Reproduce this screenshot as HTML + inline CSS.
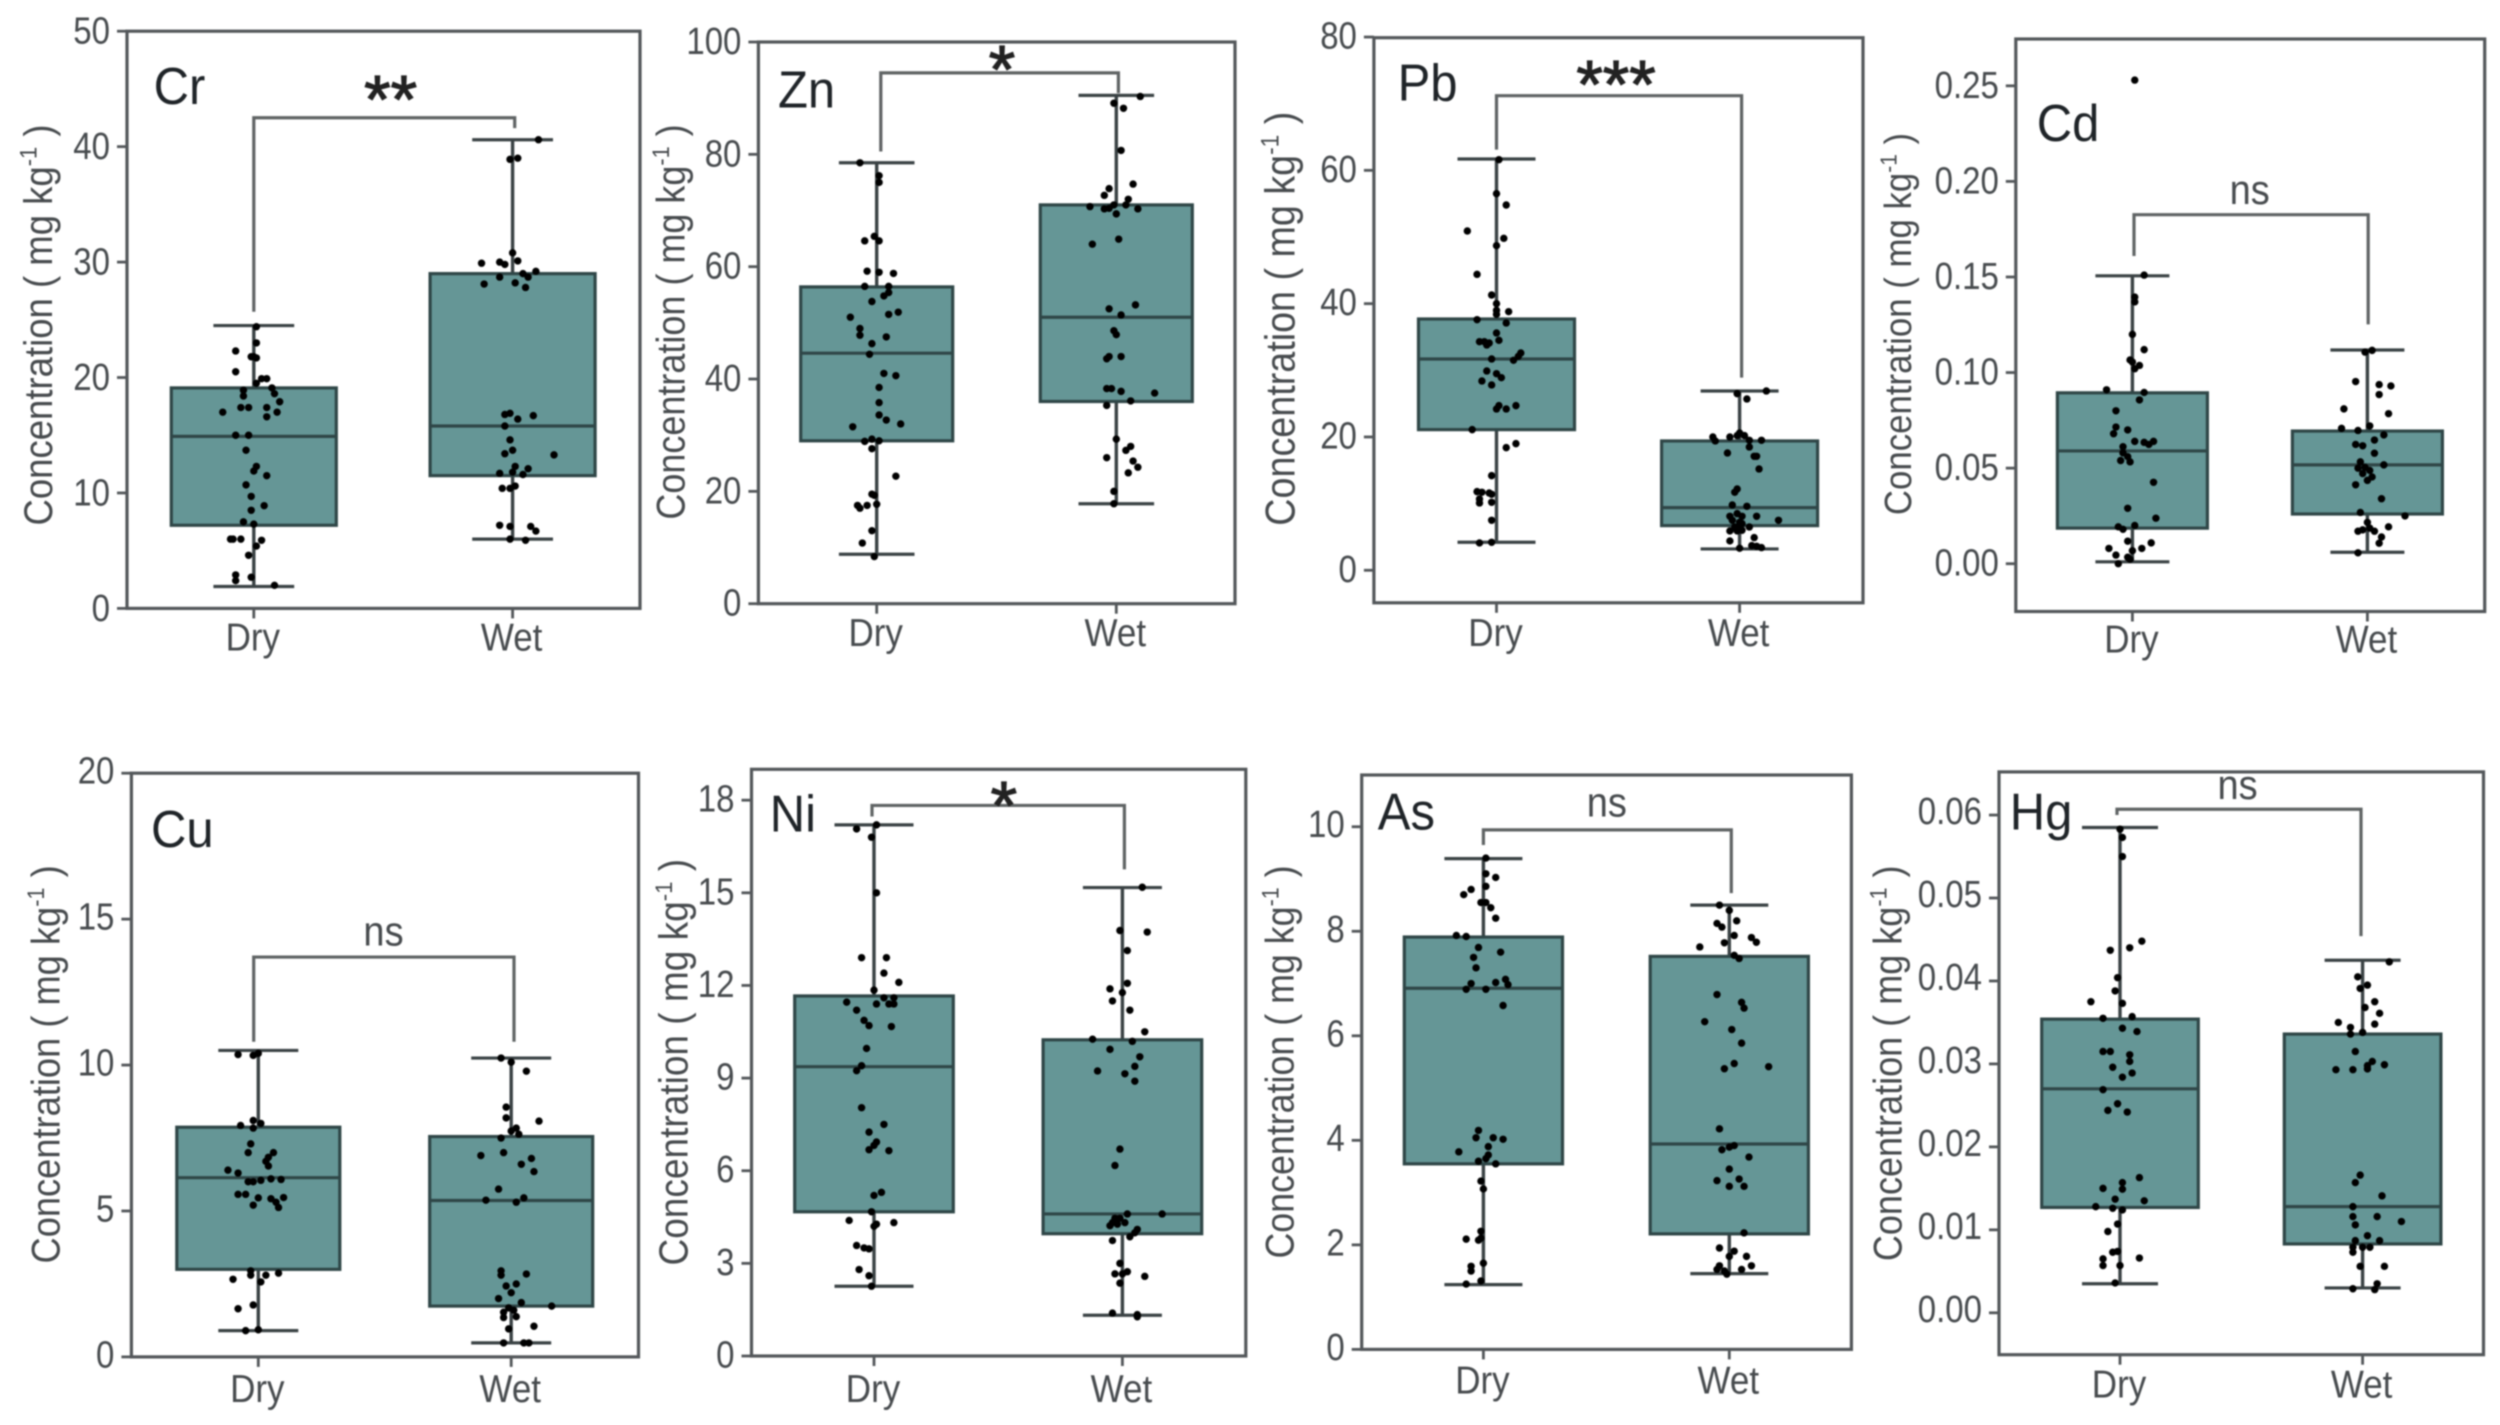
<!DOCTYPE html>
<html lang="en">
<head>
<meta charset="utf-8">
<title>Heavy metal concentration in dry and wet seasons</title>
<style>
html,body{margin:0;padding:0;background:#fff;width:2500px;height:1425px;overflow:hidden}
svg{display:block;filter:blur(0.85px)}
text{font-family:"Liberation Sans",Arial,sans-serif}
</style>
</head>
<body>
<svg id="chart" xmlns="http://www.w3.org/2000/svg" width="2500" height="1425" viewBox="0 0 2500 1425"></svg>
<script>
// ---- Categories ----
const categories = ['Dry', 'Wet'];

// ---- Cr ----
const crDomain = [0, 50];
const crTicks = [0, 10, 20, 30, 40, 50];
const crTickLabels = ['0', '10', '20', '30', '40', '50'];
const crDryStats = [1.9, 7.2, 14.9, 19.1, 24.5];
const crWetStats = [6, 11.5, 15.8, 29, 40.6];
const crDryValues = [24.4,23,22.3,21.8,21.8,21.7,20.5,19.9,19.9,19.5,19.1,18.9,18.6,18.4,17.9,17.4,17.4,17.4,17,17,16.6,15,15,13.7,12.3,11.9,11.5,10.7,9.7,8.9,8.5,7.5,7.3,6,6,6,5.9,5.4,4.6,2.9,2.4,2.7,2];
const crDryJitter = [1,1,-7,-1,0,1,-7,3,5,1,7,-4,8,-4,10,-5,-2,5,-12,9,5,-7,-2,-3,1,0,5,-3,-1,4,-1,-4,0,-9,-8,-5,3,1,-2,-7,-7,-1,8];
const crWetValues = [40.6,38.9,39,30.8,30.1,29.9,30,29.8,29.2,29,28.7,28.7,28.2,28.1,27.8,16.8,16.9,16.7,16.4,15.8,14.6,13.7,13.4,13.3,12.3,12.1,11.7,11.8,11.6,10.4,10.6,10.4,7.2,7.1,7.1,6.7,6,5.9];
const crWetJitter = [10,-1,2,0,2,-12,-5,-3,9,4,6,-5,1,-11,5,-3,-1,8,2,-3,-1,0,-3,16,1,6,-5,0,4,-4,1,-1,-5,-1,7,9,-1,5];
const crBracket = [42.5, 25.7, 41.6];

// ---- Zn ----
const znDomain = [0, 100];
const znTicks = [0, 20, 40, 60, 80, 100];
const znTickLabels = ['0', '20', '40', '60', '80', '100'];
const znDryStats = [8.8, 29, 44.6, 56.4, 78.5];
const znWetStats = [17.8, 36, 51, 71, 90.5];
const znDryValues = [78.5,76.2,75,65.4,64.6,64.6,59.2,59,58.8,56.5,56.5,55.4,54.8,53.8,51.9,51.5,51,49,47.8,47.5,46.3,44.4,41,40.6,38.5,35.8,33.6,32.7,32,31.5,29.3,28.9,29,27.6,22.7,19.5,19.3,17.7,17.5,17.5,17,13,10.8,8.4];
const znDryJitter = [-7,1,1,-1,-5,1,-4,1,7,-5,5,5,3,-2,9,5,-11,-7,-7,4,-2,-3,3,8,1,1,1,4,10,-10,-2,-5,1,-2,8,-2,-1,0,-8,-4,-7,-2,-6,-1];
const znWetValues = [90.3,89.1,88.2,80.7,74.7,73.9,72.7,72,70.7,71,71,70.3,70.4,70.3,69.4,64.9,64,53.2,52.5,51.4,48.6,47.9,44,44,43.6,38.3,38.3,37.8,37.5,36.1,35.3,29.3,28,27.3,26,25.4,24.3,23.3,20,17.8];
const znWetJitter = [10,-1,3,2,7,-3,-5,5,-11,4,-1,-5,-3,9,0,1,-10,8,-3,2,-1,0,2,-3,-4,-4,-2,2,16,6,-4,0,6,4,-4,7,9,5,-1,-1];
const znBracket = [94.5, 80.5, 90.9];

// ---- Pb ----
const pbDomain = [-4.88, 79.9];
const pbTicks = [0, 20, 40, 60, 80];
const pbTickLabels = ['0', '20', '40', '60', '80'];
const pbDryStats = [4.2, 21.1, 31.7, 37.7, 61.7];
const pbWetStats = [3.2, 6.7, 9.4, 19.4, 26.9];
const pbDryValues = [61.6,56.5,54.8,50.9,49.8,48.7,44.4,41.3,40,39,38.8,38.4,37.6,37.1,35.6,34.3,34.3,34.1,34.5,33.8,32.6,32.1,31.7,31.5,29.9,29.5,28.9,28.4,27.8,24.7,24.7,24.2,24.2,21.1,19,18.4,14.2,11.8,11.7,11.6,11.4,10.7,10.1,10.2,7.5,4.1,4.2];
const pbDryJitter = [1,0,4,-12,3,0,-8,-2,0,0,5,0,-8,4,0,-7,-5,-3,1,-4,10,9,-2,7,-4,0,2,-6,-2,1,8,0,4,-10,8,4,-2,-8,-6,-3,-2,-7,-7,-2,-2,-7,-2];
const pbWetValues = [26.9,26.5,25.7,20.6,20,20,20.2,20.2,19.4,19.5,19.5,18.5,17.6,17.1,17.1,15.2,12.2,11.7,9.8,9.6,8.1,8.1,8.5,8.1,7.5,7.5,7.2,7,5.9,5.9,6,6.5,4.9,4.4,3.7,3.3,3.4,3.6,6.5,6.5];
const pbWetJitter = [11,-1,3,0,-11,-4,-1,2,-10,9,4,4,-5,6,7,8,-1,-2,-3,3,7,-4,-1,1,16,-3,0,1,-4,-1,1,4,6,-4,5,0,9,7,-2,0];
const pbBracket = [71.2, 63.1, 28.9];

// ---- Cd ----
const cdDomain = [-0.025, 0.2745];
const cdTicks = [0, 0.05, 0.1, 0.15, 0.2, 0.25];
const cdTickLabels = ['0.00', '0.05', '0.10', '0.15', '0.20', '0.25'];
const cdDryStats = [0.001, 0.0186, 0.059, 0.0894, 0.1506];
const cdWetStats = [0.006, 0.026, 0.0517, 0.0694, 0.1118];
const cdDryValues = [0.253,0.151,0.1395,0.137,0.12,0.112,0.1066,0.1055,0.1037,0.102,0.091,0.0896,0.0857,0.08,0.0715,0.07,0.068,0.064,0.0635,0.064,0.0624,0.0612,0.058,0.056,0.054,0.0533,0.0426,0.029,0.0238,0.0193,0.02,0.018,0.0118,0.0109,0.008,0.008,0.0045,0.0068,0.0023,0,0.0034];
const cdDryJitter = [1,5,1,1,0,5,-1,0,3,1,-11,5,3,-7,-7,-2,-8,1,5,9,7,-4,-4,-2,-5,-1,9,-2,10,-6,1,-4,-2,8,-10,4,-7,0,-1,-6,-2];
const cdWetValues = [0.1116,0.1107,0.0953,0.0937,0.093,0.0885,0.081,0.0785,0.0721,0.0708,0.0697,0.0674,0.0647,0.0624,0.0617,0.0578,0.0533,0.0517,0.05,0.0504,0.0488,0.0472,0.0454,0.0436,0.0413,0.034,0.0268,0.025,0.0216,0.0193,0.0186,0.017,0.0177,0.017,0.014,0.0107,0.0057];
const cdWetJitter = [2,-1,-5,5,10,5,-10,9,1,-11,-4,7,3,-5,-2,3,-3,7,-4,-1,1,-2,2,0,-5,6,-3,16,0,9,1,-4,-2,3,6,5,-4];
const cdBracket = [0.1826, 0.161, 0.1252];

// ---- Cu ----
const cuDomain = [0, 20];
const cuTicks = [0, 5, 10, 15, 20];
const cuTickLabels = ['0', '5', '10', '15', '20'];
const cuDryStats = [0.9, 3, 6.14, 7.87, 10.5];
const cuWetStats = [0.48, 1.74, 5.36, 7.55, 10.24];
const cuDryValues = [10.36,10.33,10.4,8.1,8,7.93,7.84,7.3,7,7,6.84,6.7,6.54,6.4,6.3,6,6,6.05,6.1,6.08,5.57,5.57,5.45,5.42,5.46,5.3,5.12,5.2,2.95,2.8,2.8,2.87,2.66,2.57,1.65,1.78,0.9,0.93];
const cuDryJitter = [-8,-2,0,-2,1,-7,-2,-3,-4,6,4,3,4,-12,-8,-4,-2,1,5,9,-8,-5,0,5,10,7,8,-2,-3,-3,3,8,-10,1,-8,-2,-5,0];
const cuWetValues = [10.24,10.1,9.79,8.56,8.19,8.08,7.84,7.74,7.63,7.5,7,6.9,6.8,6.6,6.35,5.75,5.37,5.3,5.45,2.95,2.8,2.84,2.5,2.43,2.2,2,1.86,1.74,1.68,1.6,1.53,1.38,1.35,1.05,0.96,0.48,0.48,0.48];
const cuWetJitter = [-4,0,6,-2,-2,11,2,0,3,-4,-3,-12,8,4,9,-5,-10,2,5,-4,-4,6,2,-2,0,-5,4,16,-1,1,-3,2,-3,9,-1,-3,5,7];
const cuBracket = [13.7, 10.8, 10.8];

// ---- Ni ----
const niDomain = [0, 19];
const niTicks = [0, 3, 6, 9, 12, 15, 18];
const niTickLabels = ['0', '3', '6', '9', '12', '15', '18'];
const niDryStats = [2.26, 4.67, 9.37, 11.66, 17.2];
const niWetStats = [1.32, 3.96, 4.6, 10.24, 15.17];
const niDryValues = [17.2,17.07,16.8,15,12.9,12.9,12.4,12.1,11.85,11.6,11.6,11.46,11.4,11.4,11.4,11.2,10.87,10.7,10.67,9.96,9.4,9.24,8.04,7.5,7.25,6.93,6.82,6.68,6.65,5.3,5.2,4.67,4.39,4.32,4.27,4.2,3.58,3.5,3.47,2.8,2.6,2.26];
const niDryJitter = [1,-7,-1,1,-5,5,4,10,0,4,8,-11,1,6,8,-7,-4,-2,7,-3,-5,-7,-5,4,-2,1,0,-2,6,3,0,-1,-10,8,1,0,-7,-4,-2,-6,-2,-1];
const niWetValues = [15.18,13.78,13.73,13.13,12.07,11.89,11.77,11.5,11.2,10.5,10.26,10.19,9.93,9.69,9.38,9.23,9.14,8.9,6.7,6.17,4.6,4.6,4.46,4.46,4.32,4.32,4.22,4.27,4.1,3.99,3.86,3.74,3,2.73,2.66,2.66,2.58,2.36,1.39,1.34,1.27];
const niWetJitter = [8,-1,10,2,2,-5,0,-4,3,9,-12,4,-5,7,5,-10,1,5,-1,-3,16,2,-3,-1,-4,1,-5,-2,6,5,3,-4,-1,2,0,-3,9,-1,-4,6,6];
const niBracket = [17.83, 17.47, 15.76];

// ---- As ----
const asDomain = [0, 10.99];
const asTicks = [0, 2, 4, 6, 8, 10];
const asTickLabels = ['0', '2', '4', '6', '8', '10'];
const asDryStats = [1.24, 3.55, 6.91, 7.89, 9.39];
const asWetStats = [1.45, 2.21, 3.93, 7.52, 8.5];
const asDryValues = [9.4,9.1,9.03,8.86,8.8,8.7,8.55,8.55,8.45,8.25,7.92,7.9,7.69,7.6,7.5,7.3,7.08,7,7.02,6.98,6.89,6.89,6.58,4.19,4.05,4.05,4.02,3.88,3.78,3.72,3.65,3.6,3.55,3.22,3.07,2.26,2.13,2.11,2.09,1.65,1.59,1.5,1.31,1.25];
const asDryJitter = [1,1,5,1,-5,-8,-1,1,3,5,-11,-7,-2,7,-4,-3,9,-5,5,10,-7,1,8,-2,-3,4,8,2,-10,2,1,-2,5,-1,0,-1,-1,-7,-2,0,-5,-5,-1,-7];
const asWetValues = [8.5,8.4,8.2,8.15,8.08,7.92,7.88,7.79,7.78,7.7,7.54,7.48,6.79,6.64,6.53,6.27,6.12,5.86,5.47,5.37,5.41,4.22,3.9,3.87,3.82,3.68,3.45,3.23,3.26,3.12,3.12,2.23,1.94,1.88,1.78,1.78,1.6,1.6,1.53,1.53,1.5,1.44];
const asWetJitter = [-4,0,3,-5,-3,2,9,11,-2,-12,2,4,-5,5,6,-10,1,5,2,-2,16,-4,2,0,-3,8,0,-5,4,0,6,6,-4,2,0,7,9,-4,5,-5,-2,-1];
const asBracket = [9.94, 9.65, 8.73];

// ---- Hg ----
const hgDomain = [-0.00505, 0.0652];
const hgTicks = [0, 0.01, 0.02, 0.03, 0.04, 0.05, 0.06];
const hgTickLabels = ['0.00', '0.01', '0.02', '0.03', '0.04', '0.05', '0.06'];
const hgDryStats = [0.0035, 0.0127, 0.027, 0.0354, 0.0585];
const hgWetStats = [0.003, 0.0083, 0.0128, 0.0336, 0.0425];
const hgDryValues = [0.0583,0.0573,0.055,0.0448,0.044,0.0437,0.0404,0.0388,0.0375,0.0373,0.0355,0.0357,0.0343,0.0339,0.0315,0.0315,0.0311,0.0303,0.0296,0.0289,0.0284,0.0269,0.0252,0.0244,0.0242,0.0163,0.0157,0.0149,0.015,0.0137,0.0135,0.0128,0.0126,0.0124,0.0107,0.0098,0.0073,0.0074,0.0066,0.0065,0.0057,0.0057,0.0036];
const hgDryJitter = [0,1,1,9,4,-4,-1,-2,-12,1,-7,5,1,7,-7,-4,4,4,-3,5,1,-7,-1,-5,3,8,1,1,-7,-2,10,-10,-3,1,-1,-5,-3,-1,8,-7,-7,0,-2];
const hgWetValues = [0.0423,0.0405,0.0395,0.0391,0.0375,0.0368,0.0361,0.035,0.0348,0.0344,0.0336,0.0338,0.0315,0.0303,0.0299,0.0298,0.0294,0.0293,0.0293,0.0166,0.0157,0.0141,0.0128,0.0116,0.0116,0.011,0.0106,0.0093,0.0087,0.0087,0.0079,0.0079,0.0079,0.0073,0.0056,0.0056,0.0035,0.0029,0.0028];
const hgWetJitter = [11,-2,2,-1,5,1,7,-10,5,-5,-5,0,-3,4,9,2,2,-11,-4,-1,-3,8,-4,-4,6,16,-3,2,-3,7,3,-4,0,-4,-1,9,6,-4,5];
const hgBracket = [0.0607, 0.06, 0.0454];

// ---- Panel layout (frame geometry and label placement) ----
const panels = [
  {key:'cr',label:'Cr',sig:'**',domain:crDomain,ticks:crTicks,tickLabels:crTickLabels,dryStats:crDryStats,wetStats:crWetStats,dryValues:crDryValues,dryJitter:crDryJitter,wetValues:crWetValues,wetJitter:crWetJitter,bracket:crBracket,
   box:[127,640,31.2,608.4],cx:[253.8,512.6],boxHalf:82.5,capHalf:40.4,brX:[253.8,514.7],labelAt:[153.6,104],sigAt:[390.6,84.6],titleAt:[38,325],titleLen:403,xLabelDy:42,tickDy:-1},
  {key:'zn',label:'Zn',sig:'*',domain:znDomain,ticks:znTicks,tickLabels:znTickLabels,dryStats:znDryStats,wetStats:znWetStats,dryValues:znDryValues,dryJitter:znDryJitter,wetValues:znWetValues,wetJitter:znWetJitter,bracket:znBracket,
   box:[758.4,1235,42,603.7],cx:[876.7,1116.3],boxHalf:76,capHalf:37.8,brX:[880.8,1118.4],labelAt:[778,107.5],sigAt:[1002,54.2],titleAt:[670.6,322],titleLen:397,xLabelDy:42.5,tickDy:-1.5},
  {key:'pb',label:'Pb',sig:'***',domain:pbDomain,ticks:pbTicks,tickLabels:pbTickLabels,dryStats:pbDryStats,wetStats:pbWetStats,dryValues:pbDryValues,dryJitter:pbDryJitter,wetValues:pbWetValues,wetJitter:pbWetJitter,bracket:pbBracket,
   box:[1373.9,1863,37.7,602.8],cx:[1496.5,1739.6],boxHalf:78,capHalf:39,brX:[1496.5,1741.6],labelAt:[1397.6,100.6],sigAt:[1616,69.4],titleAt:[1280,318.7],titleLen:416,xLabelDy:43,tickDy:-2},
  {key:'cd',label:'Cd',sig:'ns',domain:cdDomain,ticks:cdTicks,tickLabels:cdTickLabels,dryStats:cdDryStats,wetStats:cdWetStats,dryValues:cdDryValues,dryJitter:cdDryJitter,wetValues:cdWetValues,wetJitter:cdWetJitter,bracket:cdBracket,
   box:[2015.8,2484.7,39,611.5],cx:[2132.4,2367.4],boxHalf:75,capHalf:37,brX:[2134,2368.2],labelAt:[2036.7,141],sigAt:[2249.7,193],titleAt:[1898,324],titleLen:384,xLabelDy:41,tickDy:-1.5},
  {key:'cu',label:'Cu',sig:'ns',domain:cuDomain,ticks:cuTicks,tickLabels:cuTickLabels,dryStats:cuDryStats,wetStats:cuWetStats,dryValues:cuDryValues,dryJitter:cuDryJitter,wetValues:cuWetValues,wetJitter:cuWetJitter,bracket:cuBracket,
   box:[131.4,638.5,773.2,1356.9],cx:[258.3,511.2],boxHalf:81.5,capHalf:40,brX:[253.7,514],labelAt:[151,847],sigAt:[383.5,934.4],titleAt:[45.6,1064.4],titleLen:400,xLabelDy:45,tickDy:-3},
  {key:'ni',label:'Ni',sig:'*',domain:niDomain,ticks:niTicks,tickLabels:niTickLabels,dryStats:niDryStats,wetStats:niWetStats,dryValues:niDryValues,dryJitter:niDryJitter,wetValues:niWetValues,wetJitter:niWetJitter,bracket:niBracket,
   box:[751.5,1245.8,769.3,1356],cx:[874,1122.4],boxHalf:79.3,capHalf:39.5,brX:[872,1124.4],labelAt:[769.7,831.7],sigAt:[1003.8,790.2],titleAt:[673.6,1062.2],titleLen:408.5,xLabelDy:46,tickDy:-2},
  {key:'as',label:'As',sig:'ns',domain:asDomain,ticks:asTicks,tickLabels:asTickLabels,dryStats:asDryStats,wetStats:asWetStats,dryValues:asDryValues,dryJitter:asDryJitter,wetValues:asWetValues,wetJitter:asWetJitter,bracket:asBracket,
   box:[1361.7,1851.4,775,1349.4],cx:[1483.4,1729.3],boxHalf:79.1,capHalf:39,brX:[1483.4,1731.3],labelAt:[1377.8,829.6],sigAt:[1606.8,805.5],titleAt:[1280,1062],titleLen:395,xLabelDy:44,tickDy:-3},
  {key:'hg',label:'Hg',sig:'ns',domain:hgDomain,ticks:hgTicks,tickLabels:hgTickLabels,dryStats:hgDryStats,wetStats:hgWetStats,dryValues:hgDryValues,dryJitter:hgDryJitter,wetValues:hgWetValues,wetJitter:hgWetJitter,bracket:hgBracket,
   box:[1999,2483.5,771.9,1354.7],cx:[2120,2362.6],boxHalf:78.3,capHalf:38,brX:[2117,2361],labelAt:[2009.8,829.6],sigAt:[2237.6,788],titleAt:[1888,1063.3],titleLen:397.5,xLabelDy:43,tickDy:-4.5}
];

const SVGNS = 'http://www.w3.org/2000/svg';
const svg = document.getElementById('chart');
const INK = '#3a4244';
const FRAME = '#53575a';
const BOX_FILL = '#659696';
const BOX_EDGE = '#2f4647';
const TEXT = '#474b4e';

function mk(parent, tag, attrs, content) {
  const el = document.createElementNS(SVGNS, tag);
  for (const k in attrs) el.setAttribute(k, attrs[k]);
  if (content !== undefined) el.textContent = content;
  parent.appendChild(el);
  return el;
}

function yScale(p) {
  const [x0, x1, top, bottom] = p.box;
  const [d0, d1] = p.domain;
  return v => bottom - (v - d0) / (d1 - d0) * (bottom - top);
}

function placed(x, y, sy) {
  return 'translate(' + x + ',' + y + ') scale(1,' + sy + ')';
}

function drawGroup(g, p, y, idx) {
  const name = categories[idx].toLowerCase();
  const cx = p.cx[idx];
  const stats = idx === 0 ? p.dryStats : p.wetStats;
  const values = idx === 0 ? p.dryValues : p.wetValues;
  const jitter = idx === 0 ? p.dryJitter : p.wetJitter;
  const spacing = p.cx[1] - p.cx[0];
  const [low, q1, med, q3, high] = stats;

  let el = mk(g, 'line', {x1: cx, x2: cx, y1: y(low), y2: y(high), stroke: INK, 'stroke-width': 3.4});
  
  

  el = mk(g, 'line', {x1: cx - p.capHalf, x2: cx + p.capHalf, y1: y(high), y2: y(high), stroke: INK, 'stroke-width': 3.2});
  
  

  el = mk(g, 'line', {x1: cx - p.capHalf, x2: cx + p.capHalf, y1: y(low), y2: y(low), stroke: INK, 'stroke-width': 3.2});
  
  

  el = mk(g, 'rect', {x: cx - p.boxHalf, y: y(q3), width: p.boxHalf * 2, height: y(q1) - y(q3), fill: BOX_FILL, stroke: BOX_EDGE, 'stroke-width': 3.2});
  
  

  el = mk(g, 'line', {x1: cx - p.boxHalf, x2: cx + p.boxHalf, y1: y(med), y2: y(med), stroke: BOX_EDGE, 'stroke-width': 3.2});
  
  

  values.forEach((v, i) => {
    const px = cx + (jitter[i] || 0) / 100 * spacing;
    const dot = mk(g, 'circle', {cx: px, cy: y(v), r: 3.7, fill: '#000'});
    
    
  });
}

panels.forEach(p => {
  const y = yScale(p);
  const [x0, x1, top, bottom] = p.box;
  const g = mk(svg, 'g', {});
  
  

  // frame
  let el = mk(g, 'rect', {x: x0, y: top, width: x1 - x0, height: bottom - top, fill: '#fff', stroke: FRAME, 'stroke-width': 3.2});
  
  

  // y ticks
  p.ticks.forEach((t, i) => {
    const tick = mk(g, 'line', {x1: x0 - 10, x2: x0, y1: y(t), y2: y(t), stroke: FRAME, 'stroke-width': 2.8});
    
    
    const lab = mk(g, 'text', {transform: placed(x0 - 17, y(t) + 13.5 + p.tickDy, 1.16), 'text-anchor': 'end', 'font-size': 33, fill: TEXT}, p.tickLabels[i]);
    
    
  });

  // x ticks and labels
  categories.forEach((c, i) => {
    const tick = mk(g, 'line', {x1: p.cx[i], x2: p.cx[i], y1: bottom, y2: bottom + 10, stroke: FRAME, 'stroke-width': 2.8});
    
    
    const lab = mk(g, 'text', {transform: placed(p.cx[i] - 1, bottom + p.xLabelDy, 1.12), 'text-anchor': 'middle', 'font-size': 35, fill: TEXT}, c);
    
    
  });

  // y axis title
  const fs = p.titleLen / 11.03;
  const title = mk(g, 'text', {transform: 'translate(' + (p.titleAt[0] + fs * 0.38) + ',' + p.titleAt[1] + ') rotate(-90) scale(1,1.1)', 'text-anchor': 'middle', 'font-size': fs, fill: TEXT});
  
  
  mk(title, 'tspan', {}, 'Concentration ( mg kg');
  mk(title, 'tspan', {dy: -fs * 0.38, 'font-size': fs * 0.6}, '-1');
  mk(title, 'tspan', {dy: fs * 0.38}, ' )');

  // boxes and points
  drawGroup(g, p, y, 0);
  drawGroup(g, p, y, 1);

  // significance bracket
  const [bTop, bLeft, bRight] = p.bracket;
  const d = 'M' + p.brX[0] + ' ' + y(bLeft) + 'V' + y(bTop) + 'H' + p.brX[1] + 'V' + y(bRight);
  el = mk(g, 'path', {d: d, fill: 'none', stroke: '#5f6364', 'stroke-width': 3.2});
  
  

  // significance label
  const isNs = p.sig === 'ns';
  const sigSize = isNs ? 38 : 68;
  const sigY = p.sigAt[1] + (isNs ? 11 : sigSize * 0.56);
  const sigAttrs = {transform: placed(p.sigAt[0], sigY, isNs ? 1.1 : 1), 'text-anchor': 'middle', 'font-size': sigSize, fill: isNs ? TEXT : '#222'};
  if (!isNs) {
    sigAttrs.stroke = '#222';
    sigAttrs['stroke-width'] = 1.2;
  }
  el = mk(g, 'text', sigAttrs, p.sig);
  
  

  // element label
  el = mk(g, 'text', {transform: placed(p.labelAt[0], p.labelAt[1], 1.06), 'font-size': 49, fill: '#1f2428'}, p.label);
  
  
});
</script>
</body>
</html>
